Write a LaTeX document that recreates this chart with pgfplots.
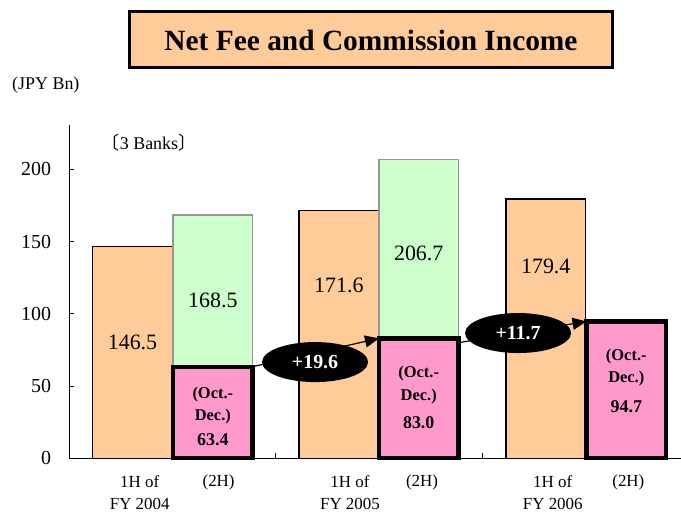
\documentclass[border=0pt]{standalone}
\usepackage{fontspec}
\setmainfont{Liberation Serif}
\newfontfamily\cjk{Noto Sans CJK JP}
\usepackage{pgfplots}
\pgfplotsset{compat=1.18}
\usetikzlibrary{arrows.meta,shapes.geometric}
\definecolor{orangebar}{HTML}{FFCC99}
\definecolor{greenbar}{HTML}{CCFFCC}
\definecolor{pinkbar}{HTML}{FF99CC}
\definecolor{greyedge}{HTML}{969696}
\begin{document}
\begin{tikzpicture}[x=1bp,y=1bp]
\useasboundingbox (0,0) rectangle (681,514);
\node[draw=black, line width=3bp, fill=orangebar, minimum width=482bp, minimum height=56bp, inner sep=0pt] at (371,474) {\fontsize{29.5}{33}\selectfont\bfseries Net Fee and Commission Income};
\node[anchor=west, inner sep=0pt] at (12,429) {\fontsize{18}{20}\selectfont (JPY Bn)};
\begin{axis}[
  at={(69.3bp,55.7bp)}, anchor=south west,
  scale only axis, width=611.7bp, height=333.3bp,
  xmin=0, xmax=2.962, ymin=0, ymax=230.7,
  axis x line*=bottom, axis y line*=left,
  ytick={0,50,100,150,200}, xtick={1,2}, xticklabels={},
  tick align=inside, major tick length=5bp,
  tick style={black, line width=0.8bp},
  axis line style={black, line width=0.8bp},
  yticklabel style={font=\fontsize{20}{24}\selectfont, inner sep=0pt, xshift=-18bp},
  /pgf/number format/assume math mode=true,
  clip=false,
]
\addplot[ybar, bar width=0.385, bar shift=0pt, fill=orangebar, draw=black, line width=1.3bp]
  coordinates {(0.306,146.5) (1.305,171.6) (2.307,179.4)};
\addplot[ybar, bar width=0.385, bar shift=0pt, fill=greenbar, draw=greyedge, line width=1.5bp]
  coordinates {(0.695,168.5) (1.692,206.7)};
\addplot[ybar, bar width=0.385, bar shift=0pt, fill=pinkbar, draw=black, line width=4.3bp]
  coordinates {(0.695,63.4) (1.692,83.0) (2.697,94.7)};

\node[font=\fontsize{22}{24}\selectfont] at (axis cs:0.306,79.9) {146.5};
\node[font=\fontsize{22}{24}\selectfont] at (axis cs:0.695,109) {168.5};
\node[font=\fontsize{22}{24}\selectfont] at (axis cs:1.305,119.9) {171.6};
\node[font=\fontsize{22}{24}\selectfont] at (axis cs:1.692,141.5) {206.7};
\node[font=\fontsize{22}{24}\selectfont] at (axis cs:2.307,133) {179.4};

\node[font=\fontsize{16.5}{18}\selectfont\bfseries] at (axis cs:0.695,43.8) {(Oct.-};
\node[font=\fontsize{16.5}{18}\selectfont\bfseries] at (axis cs:0.695,28.8) {Dec.)};
\node[font=\fontsize{18}{20}\selectfont\bfseries] at (axis cs:0.695,12.7) {63.4};
\node[font=\fontsize{16.5}{18}\selectfont\bfseries] at (axis cs:1.692,59.0) {(Oct.-};
\node[font=\fontsize{16.5}{18}\selectfont\bfseries] at (axis cs:1.692,42.6) {Dec.)};
\node[font=\fontsize{18}{20}\selectfont\bfseries] at (axis cs:1.692,24.4) {83.0};
\node[font=\fontsize{16.5}{18}\selectfont\bfseries] at (axis cs:2.697,70.3) {(Oct.-};
\node[font=\fontsize{16.5}{18}\selectfont\bfseries] at (axis cs:2.697,55.4) {Dec.)};
\node[font=\fontsize{18}{20}\selectfont\bfseries] at (axis cs:2.697,35.7) {94.7};

\draw[line width=1.2bp, -{Triangle[length=14bp,width=12bp]}] (axis cs:0.8875,63.4) -- (axis cs:1.4995,83.0);
\draw[line width=1.2bp, -{Triangle[length=14bp,width=12bp]}] (axis cs:1.8845,80.0) -- (axis cs:2.5045,94.7);
\node[ellipse, fill=black, minimum width=106bp, minimum height=40bp, inner sep=0pt, text=white, font=\fontsize{20}{22}\selectfont\bfseries] at (axis cs:1.190,66.6) {+19.6};
\node[ellipse, fill=black, minimum width=106bp, minimum height=40bp, inner sep=0pt, text=white, font=\fontsize{20}{22}\selectfont\bfseries] at (axis cs:2.173,86.7) {+11.7};

\node[font=\fontsize{18}{20}\selectfont] at (axis cs:0.386,218.2) {{\cjk 〔}3 Banks{\cjk 〕}};

\node[font=\fontsize{17}{19}\selectfont, yshift=-23.7bp] at (axis cs:0.341,0) {1H of};
\node[font=\fontsize{17}{19}\selectfont, yshift=-45.7bp] at (axis cs:0.341,0) {FY 2004};
\node[font=\fontsize{17}{19}\selectfont, yshift=-23.7bp] at (axis cs:0.723,0) {(2H)};
\node[font=\fontsize{17}{19}\selectfont, yshift=-23.7bp] at (axis cs:1.359,0) {1H of};
\node[font=\fontsize{17}{19}\selectfont, yshift=-45.7bp] at (axis cs:1.359,0) {FY 2005};
\node[font=\fontsize{17}{19}\selectfont, yshift=-23.7bp] at (axis cs:1.708,0) {(2H)};
\node[font=\fontsize{17}{19}\selectfont, yshift=-23.7bp] at (axis cs:2.341,0) {1H of};
\node[font=\fontsize{17}{19}\selectfont, yshift=-45.7bp] at (axis cs:2.341,0) {FY 2006};
\node[font=\fontsize{17}{19}\selectfont, yshift=-23.7bp] at (axis cs:2.707,0) {(2H)};
\end{axis}
\end{tikzpicture}
\end{document}
